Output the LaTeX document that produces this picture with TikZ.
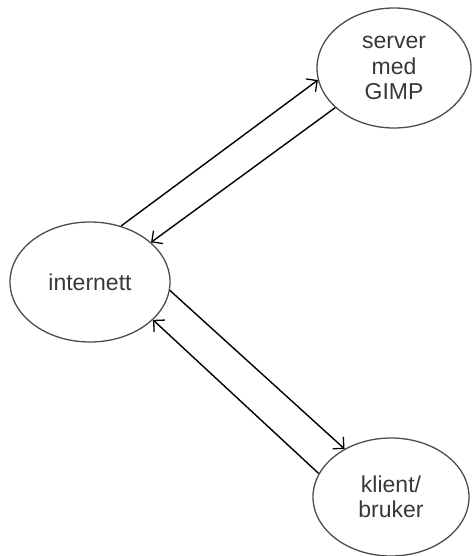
\documentclass[tikz,border=0pt]{standalone}
\usepackage{fontspec}
\setmainfont{Liberation Sans}
\usetikzlibrary{shapes.geometric,arrows.meta}
\begin{document}
\begin{tikzpicture}[x=1pt,y=-1pt,
  bubble/.style={ellipse,draw=black!70,line width=1.3pt,inner sep=0pt,
    minimum width=#1,minimum height=120pt,align=center,
    font=\fontsize{23}{25.5}\selectfont,text=black!78},
  bubble/.default=158pt,
  link/.style={draw=black,line width=1.4pt,
    -{Straight Barb[length=8pt,width=16pt,line width=1.3pt]}}]
  \useasboundingbox (0,0) rectangle (472,556);

  % the three parties
  \node[bubble=154pt] (srv) at (394,68) {server\\med\\GIMP};
  \node[bubble=160pt] (net) at (90,282) {internett};
  \node[bubble=156pt,minimum height=118pt] (cli) at (391,497) {klient/\\bruker};

  % traffic between internet and server
  \draw[link] (net.61) -- (srv.189);
  \draw[link] (srv.214) -- (net.33);

  % traffic between internet and client
  \draw[link] (net.-6) -- (cli.134);
  \draw[link] (cli.162) -- (net.-31);
\end{tikzpicture}
\end{document}
